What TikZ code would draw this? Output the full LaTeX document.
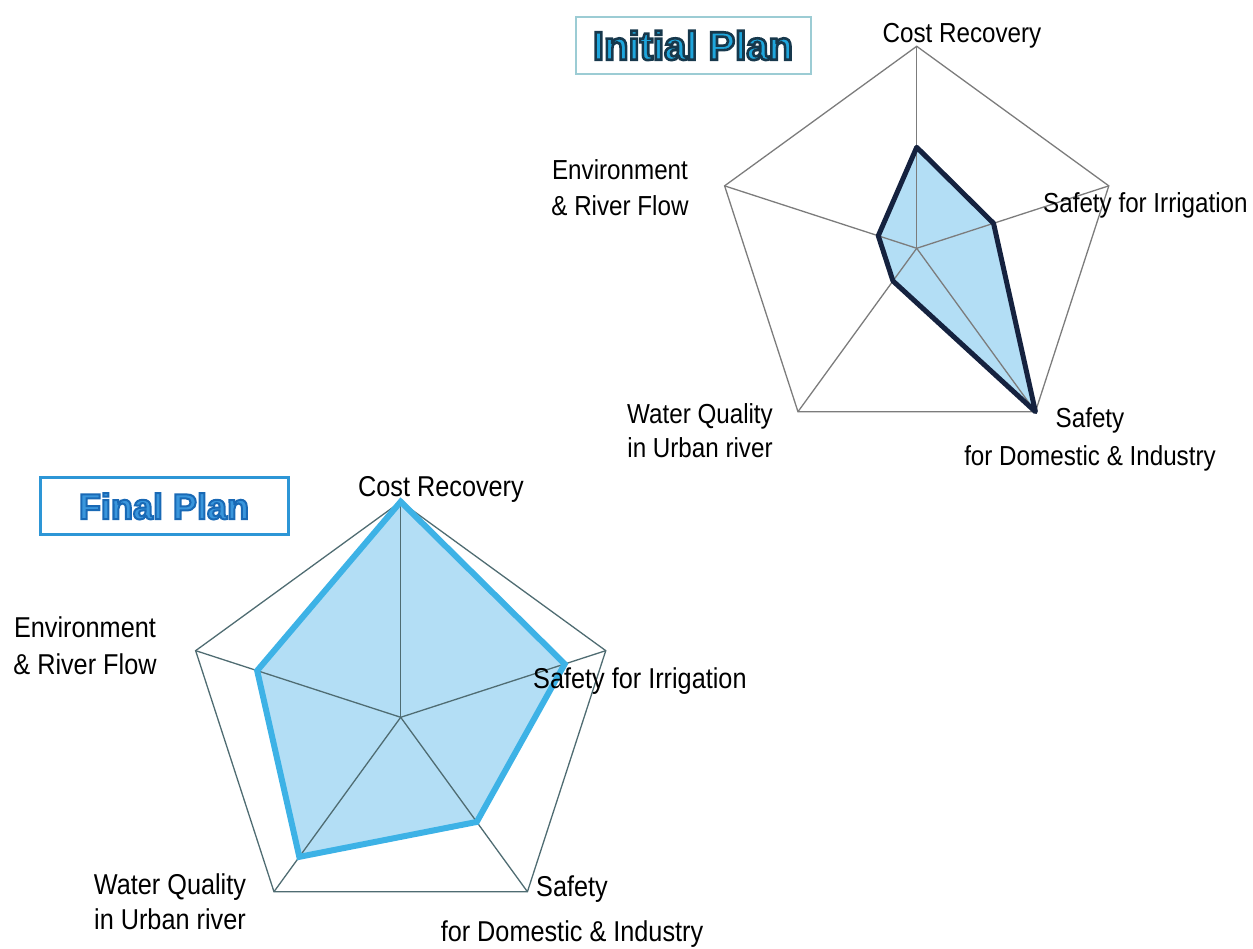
\documentclass[tikz,border=0pt]{standalone}
\usepackage{fontspec}
\setmainfont{Liberation Sans}
\newfontfamily\axisfont[FakeStretch=0.88]{Liberation Sans}
\definecolor{gridgray}{HTML}{7C7C7C}
\definecolor{gridteal}{HTML}{4F6C72}
\definecolor{areablue}{HTML}{B3DEF5}
\definecolor{navyline}{HTML}{15223F}
\definecolor{cyanline}{HTML}{3DB2E6}
\definecolor{initfill}{HTML}{1FA6DD}
\definecolor{initbox}{HTML}{9CCCD4}
\definecolor{finalfill}{HTML}{3A96DC}
\definecolor{finalbox}{HTML}{2D96D6}
% outlined title text: fill in the current colour, stroke given as r g b
\newcommand\outlined[3]{\special{pdf:literal direct 2 Tr #1 w #2 RG}#3\special{pdf:literal direct 0 Tr}}
\tikzset{
	axisline/.style={draw=#1,line width=1.3pt},
	axisline/.default=gridgray,
	axislabel/.style={font=\axisfont\fontsize{#1}{35}\selectfont,inner sep=0pt,align=center},
	axislabel/.default=27.5,
	titlebox/.style={draw=#1,inner sep=0pt,font=\bfseries}
}
\begin{document}
\begin{tikzpicture}[x=1pt,y=1pt]
	\useasboundingbox (0,0) rectangle (1253,949);
	% initial plan
	\begin{scope}[shift={(916.7,700.7)}]
		\coordinate (ic) at (0,0);
		\foreach \a/\r [count=\i] in {90/.5,18/.4,-54/1,-126/.2,162/.2}{
			\coordinate (iv\i) at (\a:202);
			\coordinate (id\i) at (\a:{\r*202});
		}
	\end{scope}
	\fill[areablue] (id1)--(id2)--(id3)--(id4)--(id5)--cycle;
	\draw[axisline] (iv1)--(iv2)--(iv3)--(iv4)--(iv5)--cycle;
	\foreach \i in {1,...,5} \draw[axisline] (ic)--(iv\i);
	\draw[navyline,line width=5pt,line join=round] (id1)--(id2)--(id3)--(id4)--(id5)--cycle;
	\path
	(962,906) node[axislabel,anchor=base] (icost) {Cost Recovery}
	(1043,736) node[axislabel,anchor=base west] (iirr) {Safety for Irrigation}
	(1090,542) node[axislabel,anchor=north] (idom) {Safety\\[3pt]for Domestic \& Industry}
	(700,546) node[axislabel,anchor=north] (iwat) {Water Quality\\[-1pt]in Urban river}
	(620,790) node[axislabel,anchor=north] (ienv) {Environment\\[1pt]\& River Flow}
	;
	\node[titlebox=initbox,line width=2pt,minimum width=235pt,minimum height=57pt,font=\fontsize{40}{44}\selectfont\bfseries] (initial) at (693,903.5) {\color{initfill}\outlined{2.6}{0.09 0.22 0.30}{Initial Plan}};
	% final plan
	\begin{scope}[shift={(400.7,231.7)}]
		\coordinate (fc) at (0,0);
		\foreach \a/\r [count=\i] in {90/1,18/.8,-54/.6,-126/.8,162/.7}{
			\coordinate (fv\i) at (\a:215.6);
			\coordinate (fd\i) at (\a:{\r*215.6});
		}
	\end{scope}
	\fill[areablue] (fd1)--(fd2)--(fd3)--(fd4)--(fd5)--cycle;
	\draw[axisline=gridteal] (fv1)--(fv2)--(fv3)--(fv4)--(fv5)--cycle;
	\foreach \i in {1,...,5} \draw[axisline=gridteal] (fc)--(fv\i);
	\draw[cyanline,line width=6pt] (fd1)--(fd2)--(fd3)--(fd4)--(fd5)--cycle;
	\path
	(441,452) node[axislabel=28.7,anchor=base] (fcost) {Cost Recovery}
	(533,260) node[axislabel=28.7,anchor=base west] (firr) {Safety for Irrigation}
	(572,73) node[axislabel=28.7,anchor=north] (fdom) {Safety\\[10pt]for Domestic \& Industry}
	(170,75) node[axislabel=28.7,anchor=north] (fwat) {Water Quality\\in Urban river}
	(85,332) node[axislabel=28.7,anchor=north] (fenv) {Environment\\[2pt]\& River Flow}
	;
	\node[titlebox=finalbox,line width=3pt,minimum width=248pt,minimum height=57pt,font=\fontsize{36}{40}\selectfont\bfseries] (final) at (164,442.7) {\color{finalfill}\outlined{2}{0.10 0.41 0.71}{Final Plan}};
\end{tikzpicture}
\end{document}
